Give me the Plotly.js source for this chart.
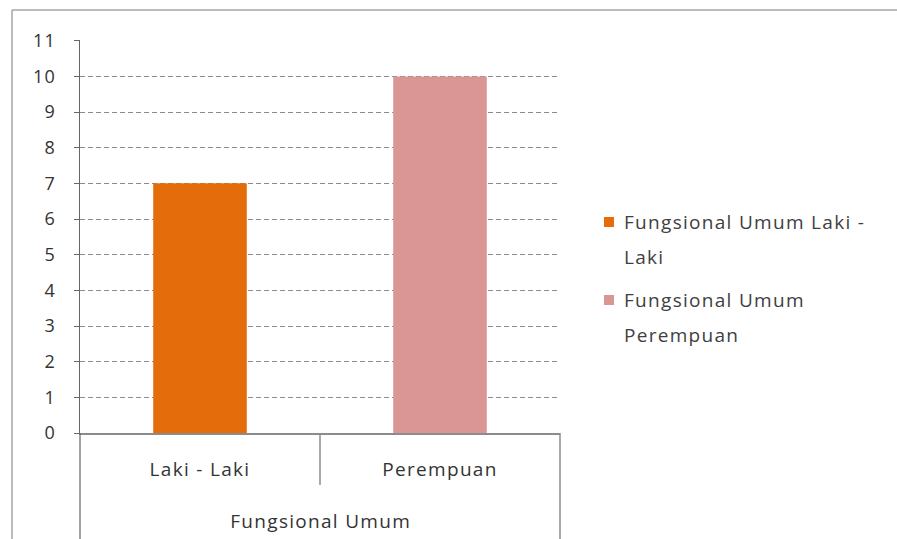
<!DOCTYPE html>
<html>
<head>
<meta charset="utf-8">
<script src="https://cdn.plot.ly/plotly-3.0.1.min.js"></script>
<style>
html,body{margin:0;padding:0;background:#fff;}
#chart{width:897px;height:539px;}
#chart text{letter-spacing:1.3px;}
</style>
</head>
<body>
<div id="chart"></div>
<script>
const groupLabel = "Fungsional Umum";
const categories = ["Laki - Laki", "Perempuan"];
const seriesNames = ["Fungsional Umum Laki - Laki", "Fungsional Umum Perempuan"];
const legendLines = [["Fungsional Umum Laki -", "Laki"], ["Fungsional Umum", "Perempuan"]];
const values = [7, 10];
const colors = ["#E46C0A", "#D99694"];
const yTicks = [0,1,2,3,4,5,6,7,8,9,10,11];

const FONT = "Open Sans, Liberation Sans, sans-serif";
const TXT = "#333";
const AX = "#8c8c8c";

// plot area in pixels: x 80..560, y 40..433
const px2x = p => (p - 80) / 480;
const px2y = p => (433 - p) / 393;

const traces = categories.map((c, i) => ({
  type: "bar",
  x: [c],
  y: [values[i]],
  name: seriesNames[i],
  marker: {color: colors[i]},
  width: 0.39,
  hoverinfo: "y",
  showlegend: false
}));

const annotations = [{
  text: groupLabel, xref: "paper", yref: "paper", x: 0.5, y: px2y(521),
  xanchor: "center", yanchor: "middle", showarrow: false,
  font: {family: FONT, size: 19, color: TXT}
}];
const shapes = [
  // chart border
  {type: "line", xref: "paper", yref: "paper", x0: px2x(12), x1: px2x(12), y0: px2y(560), y1: px2y(10), line: {color: "#a6a6a6", width: 1.5}},
  {type: "line", xref: "paper", yref: "paper", x0: px2x(12), x1: px2x(910), y0: px2y(10), y1: px2y(10), line: {color: "#a6a6a6", width: 1.5}},
  // category axis dividers
  {type: "line", xref: "paper", yref: "paper", x0: 0, x1: 0, y0: 0, y1: px2y(560), line: {color: "#666", width: 1.2}},
  {type: "line", xref: "paper", yref: "paper", x0: 1, x1: 1, y0: 0, y1: px2y(560), line: {color: AX, width: 1.5}},
  {type: "line", xref: "paper", yref: "paper", x0: 0.5, x1: 0.5, y0: 0, y1: px2y(485), line: {color: AX, width: 1.5}}
];

// legend drawn as swatches + text lines (Excel-like spacing)
const legendTop = [222, 300];
const lineGap = 35;
legendLines.forEach((lines, i) => {
  const cy = legendTop[i];
  shapes.push({type: "rect", xref: "paper", yref: "paper",
    x0: px2x(604), x1: px2x(614), y0: px2y(cy - 5), y1: px2y(cy + 5),
    fillcolor: colors[i], line: {width: 0}});
  lines.forEach((ln, j) => {
    annotations.push({text: ln, xref: "paper", yref: "paper",
      x: px2x(622), y: px2y(cy + j * lineGap), xanchor: "left", yanchor: "middle",
      width: 272, align: "left",
      showarrow: false, font: {family: FONT, size: 19, color: "#404040"}});
  });
});

const layout = {
  width: 897, height: 539,
  margin: {l: 80, r: 337, t: 40, b: 106},
  paper_bgcolor: "#fff", plot_bgcolor: "#fff",
  barmode: "overlay",
  font: {family: FONT, size: 18, color: TXT},
  showlegend: false,
  xaxis: {
    type: "category",
    showline: true, linecolor: AX, linewidth: 1.5,
    ticks: "", showgrid: false, zeroline: false,
    ticklabelstandoff: 19,
    tickfont: {size: 19, color: TXT, family: FONT},
    range: [-0.5, 1.5]
  },
  yaxis: {
    range: [0, 11.02], tickvals: yTicks, ticktext: yTicks.map(String),
    showline: true, linecolor: "#666", linewidth: 1.2,
    ticks: "outside", ticklen: 5, tickcolor: "#666",
    showgrid: true, gridcolor: "#8a8a8a", griddash: "5px,3px", gridwidth: 1,
    zeroline: false, ticklabelstandoff: 14,
    tickfont: {size: 18, color: TXT, family: FONT}
  },
  shapes: shapes,
  annotations: annotations
};

Plotly.newPlot("chart", traces, layout, {displayModeBar: false, staticPlot: true});
</script>
</body>
</html>
